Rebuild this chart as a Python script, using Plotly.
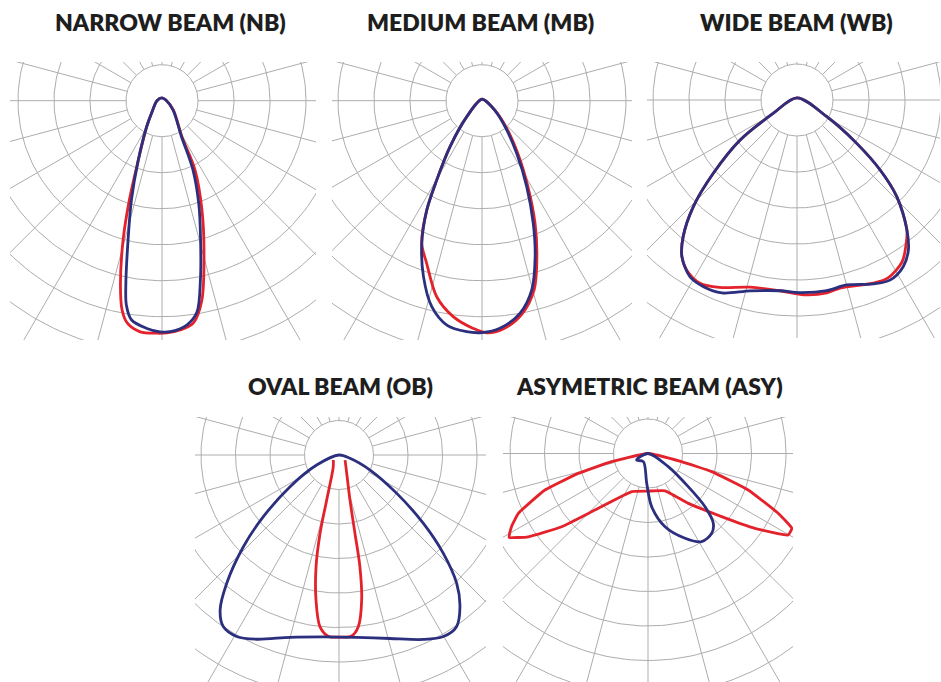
import numpy as np
import plotly.graph_objects as go

# ---------------- data (gamma = angle from nadir in degrees, negative = left half;
# intensity in units of the polar grid rings) ----------------
TITLES = ["NARROW BEAM (NB)", "MEDIUM BEAM (MB)", "WIDE BEAM (WB)",
          "OVAL BEAM (OB)", "ASYMETRIC BEAM (ASY)"]

NB_RED_GAMMA = [-180, -90, -41.5, -30.5, -21.8, -18.2, -15.6, -12.7, -10.8, -8.9, -5.4, -1.3,
                1.2, 4.5, 8.0, 11.3, 15.7, 20.1, 25.5, 28.9, 50.5, 100, 180]
NB_RED_I = [0.08, 0.14, 0.42, 0.84, 1.77, 2.90, 4.02, 5.25, 5.92, 6.25, 6.45, 6.46,
            6.45, 6.39, 6.24, 5.65, 4.31, 3.23, 2.13, 1.15, 0.41, 0.11, 0.08]
NB_BLUE_GAMMA = [-180, -90, -41.5, -30.5, -21.8, -17.1, -13.7, -11.1, -9.9, -7.9, -3.8, -0.5,
                 2.0, 6.3, 9.4, 12.1, 15.5, 19.5, 24.1, 28.4, 49.8, 100, 180]
NB_BLUE_I = [0.08, 0.14, 0.42, 0.84, 1.77, 2.89, 3.98, 5.22, 5.76, 6.15, 6.34, 6.42,
             6.42, 6.27, 5.95, 5.09, 4.01, 3.07, 2.11, 1.14, 0.40, 0.11, 0.08]

MB_RED_GAMMA = [-180, -43.7, -34.8, -29.7, -26.8, -22.9, -18.8, -13.0, -7.6, -2.2, 1.2, 5.3,
                10.6, 15.4, 19.4, 23.4, 28.1, 34.2, 44.0, 58.0, 180]
MB_RED_I = [0.04, 0.61, 1.56, 2.54, 3.40, 4.30, 4.77, 5.59, 6.05, 6.33, 6.45, 6.37,
            6.03, 5.45, 4.59, 3.71, 2.71, 1.77, 0.88, 0.32, 0.04]
MB_BLUE_GAMMA = [-180, -43.7, -34.8, -29.7, -26.8, -22.9, -18.4, -13.7, -8.9, -3.8, 0.0, 4.5,
                 10.1, 14.7, 18.8, 22.7, 27.5, 33.4, 43.3, 58.0, 180]
MB_BLUE_I = [0.04, 0.61, 1.56, 2.54, 3.40, 4.30, 5.15, 5.89, 6.31, 6.43, 6.44, 6.34,
             6.00, 5.44, 4.58, 3.69, 2.69, 1.75, 0.86, 0.32, 0.04]

WB_RED_GAMMA = [-180, -60.7, -54.9, -48.8, -44.2, -39.8, -36.3, -33.0, -27.9, -22.4, -14.1, -5.1,
                2.8, 8.8, 12.9, 22.6, 27.1, 33.0, 36.9, 40.2, 45.9, 49.9, 54.0, 60.7, 180]
WB_RED_I = [0.06, 0.75, 1.93, 3.09, 4.13, 4.94, 5.40, 5.63, 5.76, 5.63, 5.36, 5.32,
            5.42, 5.42, 5.36, 5.51, 5.55, 5.36, 5.04, 4.73, 3.86, 3.02, 2.05, 0.95, 0.06]
WB_BLUE_GAMMA = [-180, -60.7, -54.9, -48.8, -44.2, -39.8, -36.3, -31.2, -26.6, -21.3, -13.8, -5.1,
                 0.9, 8.9, 15.0, 22.5, 27.3, 32.5, 36.6, 40.2, 45.9, 49.9, 54.0, 60.7, 180]
WB_BLUE_I = [0.06, 0.75, 1.93, 3.09, 4.13, 4.94, 5.40, 5.74, 5.80, 5.75, 5.46, 5.32,
             5.35, 5.36, 5.32, 5.53, 5.63, 5.49, 5.19, 4.73, 3.86, 3.02, 2.05, 0.95, 0.06]

OB_RED_GAMMA = [-48.7, -26.0, -15.3, -13.6, -11.6, -9.0, -6.3, -3.4, 0.3,
                4.0, 6.4, 8.9, 10.6, 11.5, 13.7, 30.9, 50.0]
OB_RED_I = [0.22, 0.38, 1.35, 2.34, 3.31, 4.26, 5.01, 5.26, 5.28,
            5.26, 5.01, 4.25, 3.29, 2.32, 1.34, 0.39, 0.23]
OB_BLUE_GAMMA = [-180, -65.8, -57.1, -50.8, -46.2, -41.2, -37.5, -34.0, -29.4, -24.1, -15.0, -4.9,
                 5.5, 15.5, 24.6, 29.9, 34.4, 38.6, 42.5, 46.7, 51.0, 56.4, 64.2, 73.3, 180]
OB_BLUE_I = [0.0, 0.71, 1.69, 2.83, 3.84, 4.94, 5.66, 6.00, 6.04, 5.85, 5.47, 5.29,
             5.31, 5.52, 5.88, 6.07, 6.03, 5.62, 5.05, 4.15, 3.14, 2.01, 1.00, 0.33, 0.0]

ASY_RED_GAMMA = [-90, -77.3, -74.1, -70.5, -65.2, -61.8, -58.9, -55.2, -49.7, -43.2, -23.1, 0.0,
                 24.6, 39.0, 49.4, 55.0, 59.8, 62.5, 65.3, 70.0, 74.1, 76.3, 90]
ASY_RED_I = [0.0, 1.08, 2.10, 3.17, 4.14, 4.49, 4.70, 4.23, 3.28, 2.25, 1.20, 1.09,
             1.19, 1.86, 2.81, 3.78, 4.70, 4.70, 4.16, 3.09, 1.92, 1.00, 0.0]
ASY_BLUE_GAMMA = [-90, -60.0, -29.8, -2.5, 4.0, 13.1, 23.6, 31.3, 38.6, 43.1, 47.0, 50.5, 57.0, 90]
ASY_BLUE_I = [0.0, 0.38, 0.27, 0.86, 1.55, 2.18, 2.68, 2.99, 2.96, 2.77, 2.26, 1.51, 0.70, 0.0]

RING_RADII = list(range(1, 11))
SPOKE_ANGLES = list(range(0, 360, 15))

# ---------------- layout (pixel geometry of each panel) ----------------
W, H = 941, 682
RED, BLUE, GRID = "#e3222b", "#2b2f7e", "#adadad"

# (x0, x1, y0, y1, cx, cy, px_per_unit, title_x, title_y, curve sets)
PANELS = [
    (10, 316, 62, 340, 162, 100.7, 36.0, 170, 22,
     [(NB_RED_GAMMA, NB_RED_I, RED, 0.9), (NB_BLUE_GAMMA, NB_BLUE_I, BLUE, 0.9)]),
    (332, 632, 62, 340, 482, 100.7, 36.0, 480, 22,
     [(MB_RED_GAMMA, MB_RED_I, RED, 0.9), (MB_BLUE_GAMMA, MB_BLUE_I, BLUE, 0.9)]),
    (647, 940, 62, 338, 797, 100.0, 36.0, 796, 22,
     [(WB_RED_GAMMA, WB_RED_I, RED, 0.9), (WB_BLUE_GAMMA, WB_BLUE_I, BLUE, 0.9)]),
    (195, 486, 417, 682, 339, 455.0, 34.5, 340, 386,
     [(OB_RED_GAMMA, OB_RED_I, RED, 0.9), (OB_BLUE_GAMMA, OB_BLUE_I, BLUE, 0.9)]),
    (503, 793, 417, 682, 648, 453.5, 34.5, 649, 386,
     [(ASY_RED_GAMMA, ASY_RED_I, RED, 0.35), (ASY_BLUE_GAMMA, ASY_BLUE_I, BLUE, 0.9)]),
]


def to_xy(gamma_deg, intensity):
    g = np.radians(np.asarray(gamma_deg, dtype=float))
    r = np.asarray(intensity, dtype=float)
    return r * np.sin(g), -r * np.cos(g)


fig = go.Figure()
layout_axes = {}
annotations = []

for i, (x0, x1, y0, y1, cx, cy, s, tx, ty, curves) in enumerate(PANELS):
    n = "" if i == 0 else str(i + 1)
    xa, ya = "x" + n, "y" + n

    # polar grid: rings
    t = np.linspace(0, 2 * np.pi, 241)
    gx, gy = [], []
    for rr in RING_RADII:
        gx += list(rr * np.cos(t)) + [None]
        gy += list(rr * np.sin(t)) + [None]
    # spokes from the inner ring outwards
    for a in SPOKE_ANGLES:
        ar = np.radians(a)
        gx += [RING_RADII[0] * np.cos(ar), RING_RADII[-1] * np.cos(ar), None]
        gy += [RING_RADII[0] * np.sin(ar), RING_RADII[-1] * np.sin(ar), None]
    fig.add_trace(go.Scatter(x=gx, y=gy, mode="lines", xaxis=xa, yaxis=ya,
                             line=dict(color=GRID, width=1), hoverinfo="skip",
                             showlegend=False))

    for gam, inten, col, smooth in curves:
        cxs, cys = to_xy(gam, inten)
        fig.add_trace(go.Scatter(x=cxs, y=cys, mode="lines", xaxis=xa, yaxis=ya,
                                 line=dict(color=col, width=2.8, shape="spline",
                                           smoothing=smooth),
                                 hoverinfo="skip", showlegend=False))

    axis_common = dict(visible=False, showgrid=False, zeroline=False, fixedrange=True)
    layout_axes["xaxis" + n] = dict(domain=[x0 / W, x1 / W],
                                    range=[(x0 - cx) / s, (x1 - cx) / s],
                                    anchor=ya, **axis_common)
    layout_axes["yaxis" + n] = dict(domain=[1 - y1 / H, 1 - y0 / H],
                                    range=[-(y1 - cy) / s, (cy - y0) / s],
                                    anchor=xa, **axis_common)

    annotations.append(dict(text=TITLES[i], x=tx / W, y=1 - ty / H,
                            xref="paper", yref="paper", xanchor="center", yanchor="middle",
                            showarrow=False,
                            font=dict(family="Lato, 'Open Sans', sans-serif", size=23,
                                      weight=800, color="#1e1e1e")))

fig.update_layout(width=W, height=H, margin=dict(l=0, r=0, t=0, b=0),
                  paper_bgcolor="white", plot_bgcolor="white",
                  annotations=annotations, showlegend=False, **layout_axes)

fig.write_html("out.html", config={"displayModeBar": False},
               post_script="document.body.style.margin='0';document.body.style.padding='0';")
